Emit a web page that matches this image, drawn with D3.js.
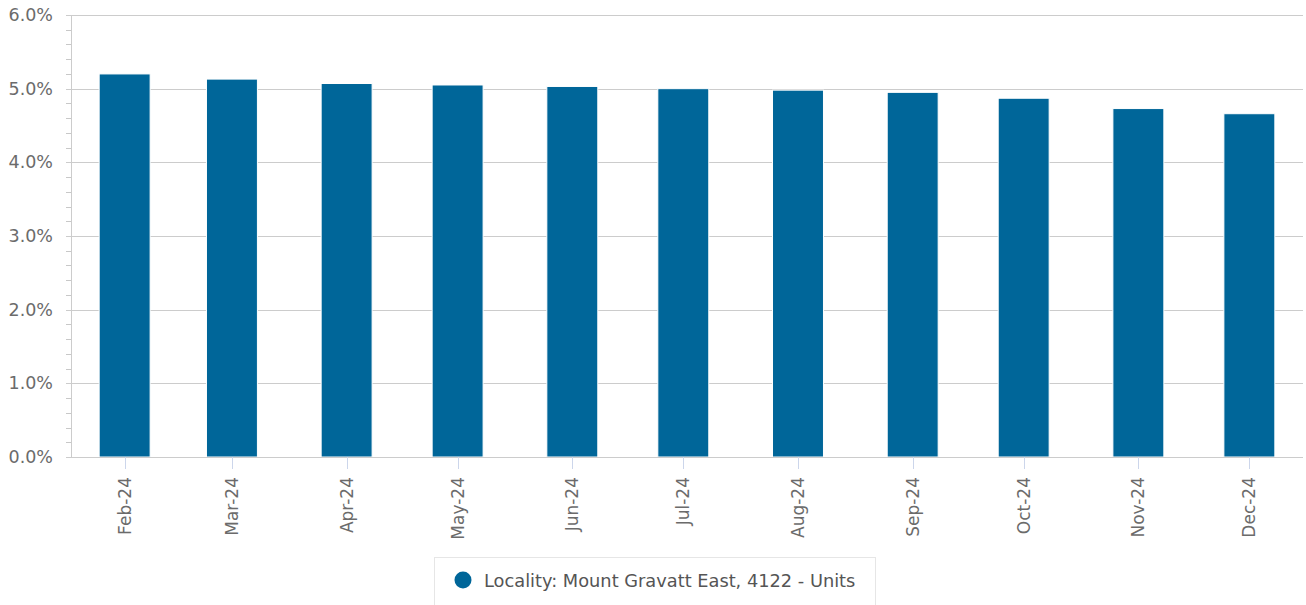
<!DOCTYPE html>
<html><head><meta charset="utf-8">
<script src="https://cdn.jsdelivr.net/npm/d3@7"></script>
<style>body{margin:0;background:#fff;} svg text{font-family:"DejaVu Sans",sans-serif;}</style>
</head><body><svg id="c" width="1306" height="605"></svg>
<script>
const months = ["2024-02-01","2024-03-01","2024-04-01","2024-05-01","2024-06-01","2024-07-01","2024-08-01","2024-09-01","2024-10-01","2024-11-01","2024-12-01"];
const values = [5.20,5.13,5.07,5.05,5.03,5.00,4.98,4.95,4.87,4.73,4.66];
const yTicks = [0,1,2,3,4,5,6];
const seriesName = "Locality: Mount Gravatt East, 4122 - Units";

(function(){
const svg = d3.select("#c");
const pL = 71, pR = 1303, pT = 15, pB = 457;
const parse = d3.utcParse("%Y-%m-%d");
const dates = months.map(parse);
const halfPad = 14.5 * 864e5;
const x = d3.scaleUtc().domain([+dates[0] - halfPad, +dates[dates.length-1] + halfPad]).range([pL, pR]);
const y = d3.scaleLinear().domain([0,6]).range([pB, pT]);
const fmt = d3.utcFormat("%b-%y");
const barW = (x(+dates[0] + 29*864e5) - x(dates[0])) * 0.475;
const color = "#006699";

const minor = d3.range(0, 6.001, 0.2).filter(v => Math.abs(v - Math.round(v)) > 1e-6);
svg.append("g").selectAll("line").data(minor).join("line")
  .attr("x1", pL-5).attr("x2", pL).attr("y1", d=>Math.round(y(d))+0.5).attr("y2", d=>Math.round(y(d))+0.5)
  .attr("stroke","#c8c8c8").attr("stroke-width",1);
svg.append("g").selectAll("line").data(yTicks).join("line")
  .attr("x1", pL-5).attr("x2", pR).attr("y1", d=>Math.round(y(d))+0.5).attr("y2", d=>Math.round(y(d))+0.5)
  .attr("stroke","#cccccc").attr("stroke-width",1);
svg.append("line").attr("x1",pL+0.5).attr("x2",pL+0.5).attr("y1",pT).attr("y2",pB)
  .attr("stroke","#cccccc");
svg.append("g").selectAll("text").data(yTicks).join("text")
  .attr("x", 53).attr("y", d=>y(d)+6).attr("text-anchor","end")
  .attr("font-size","17.5px").attr("fill","#6b6b6b").text(d=>d.toFixed(1)+"%");

svg.append("g").selectAll("rect").data(values).join("rect")
  .attr("x",(d,i)=>x(dates[i]) - barW/2).attr("width",barW)
  .attr("y",d=>y(d)).attr("height",d=>pB - y(d))
  .attr("fill",color).attr("stroke","#ffffff").attr("stroke-width",1);

const xa = svg.append("g");
xa.append("line").attr("x1",pL).attr("x2",pR).attr("y1",pB+0.5).attr("y2",pB+0.5).attr("stroke","#cccccc");
xa.selectAll("line.t").data(dates).join("line").attr("class","t")
  .attr("x1",d=>Math.round(x(d))+0.5).attr("x2",d=>Math.round(x(d))+0.5)
  .attr("y1",pB).attr("y2",pB+12).attr("stroke","#ccd6eb");
xa.selectAll("text").data(dates).join("text")
  .attr("transform",d=>`translate(${x(d)+6},${pB+20}) rotate(-90)`)
  .attr("text-anchor","end").attr("font-size","17px").attr("fill","#6b6b6b").text(d=>fmt(d));

const lg = svg.append("g");
lg.append("rect").attr("x",434.5).attr("y",557.5).attr("width",441).attr("height",60)
  .attr("fill","#fff").attr("stroke","#e6e6e6");
lg.append("circle").attr("cx",463).attr("cy",580).attr("r",8.5).attr("fill",color);
lg.append("text").attr("x",484).attr("y",587).attr("font-size","17.8px").attr("fill","#555").text(seriesName);
})();
</script></body></html>
